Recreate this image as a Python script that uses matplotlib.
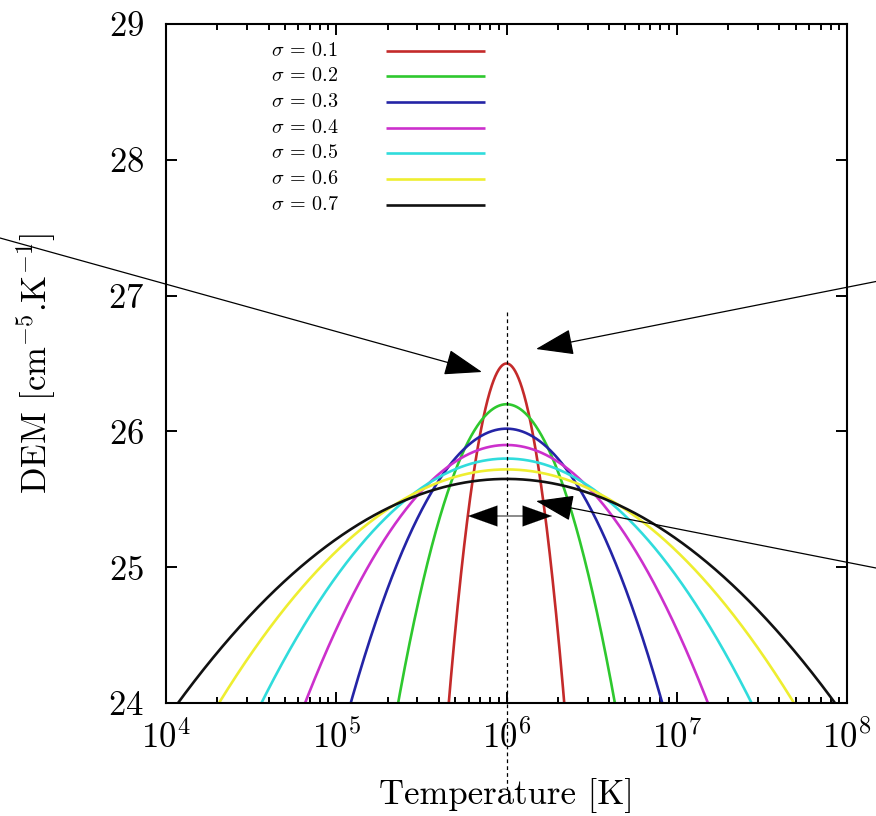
import numpy as np
import matplotlib
matplotlib.use("Agg")
import matplotlib.pyplot as plt
from matplotlib.ticker import LogLocator, NullFormatter, FixedLocator

plt.rcParams["font.family"] = "serif"
plt.rcParams["font.serif"] = ["cmr10", "DejaVu Serif"]
plt.rcParams["mathtext.fontset"] = "cm"
plt.rcParams["axes.formatter.use_mathtext"] = True

# Gaussian DEM models centred on log T = 6
sigmas = [0.1, 0.2, 0.3, 0.4, 0.5, 0.6, 0.7]
peak_dem = [26.50, 26.20, 26.02, 25.90, 25.80, 25.72, 25.65]
center_logt = 6.0
colors = ["#c42a2a", "#2ec82e", "#2424a6", "#cc30cc", "#30dcdc", "#eeee30", "#111111"]
labels = [r"$\sigma$ = %.1f" % s for s in sigmas]

W, H = 876, 816
fig = plt.figure(figsize=(W / 100, H / 100), dpi=100)
L, R, T, B = 166, 847, 24, 703
ax = fig.add_axes([L / W, 1 - B / H, (R - L) / W, (B - T) / H])

logt = np.linspace(3.5, 8.5, 2000)
for s, p, c in zip(sigmas, peak_dem, colors):
    dem = p - np.log10(np.e) * (logt - center_logt) ** 2 / (2 * s ** 2)
    ax.plot(10 ** logt, dem, color=c, lw=1.9, solid_capstyle="butt")

ax.set_xscale("log")
ax.set_xlim(1e4, 1e8)
ax.set_ylim(24, 29)

ax.xaxis.set_major_locator(LogLocator(base=10, numticks=10))
ax.xaxis.set_minor_locator(LogLocator(base=10, subs=np.arange(2, 10), numticks=50))
ax.xaxis.set_minor_formatter(NullFormatter())
ax.yaxis.set_major_locator(FixedLocator([24, 25, 26, 27, 28, 29]))

ax.tick_params(which="both", direction="in", top=True, right=True, width=1.4,
               labelsize=25)
ax.tick_params(which="major", length=8)
ax.tick_params(which="minor", length=4.5)
ax.tick_params(axis="y", pad=16)
ax.tick_params(axis="x", pad=12)
for sp in ax.spines.values():
    sp.set_linewidth(1.5)

ax.set_xlabel("Temperature [K]", fontsize=25, labelpad=17)
ax.set_ylabel(r"DEM [cm$^{-5}$.K$^{-1}$]", fontsize=25, labelpad=36)

# key: label on the left, line sample on the right
for i, (lab, c) in enumerate(zip(labels, colors)):
    py = 50.7 + i * 25.67
    yf = (B - py) / (B - T)
    ax.text((271 - L) / (R - L), yf, lab, transform=ax.transAxes, fontsize=14.5,
            ha="left", va="center")
    ax.plot([(386 - L) / (R - L), (485 - L) / (R - L)], [yf, yf], color=c, lw=1.9,
            transform=ax.transAxes, solid_capstyle="butt")


def px_to_data(px, py):
    lx = 4 + (px - L) / (R - L) * 4
    v = 24 + (B - py) / (B - T) * 5
    return 10 ** lx, v


# dashed marker at the peak temperature
x0, ytop = px_to_data(508, 312)
_, ybot = px_to_data(508, 792)
ax.plot([1e6, 1e6], [ytop, ybot], color="black", lw=0.9, ls=(0, (3, 2.5)),
        clip_on=False)

head = dict(arrowstyle="-|>,head_length=1.6,head_width=0.55", color="black",
            lw=0.9, shrinkA=0, shrinkB=0, mutation_scale=15)

for start, tip in [((0, 238), (482, 372)),
                   ((876, 281.5), (536, 349)),
                   ((876, 568), (536, 501))]:
    ax.annotate("", xy=px_to_data(*tip), xytext=px_to_data(*start),
                xycoords="data", textcoords="data", arrowprops=head,
                annotation_clip=False)

# width indicator around the peak
yw = 516
ax.plot([10 ** (4 + (497 - L) / (R - L) * 4), 10 ** (4 + (524 - L) / (R - L) * 4)],
        [px_to_data(0, yw)[1]] * 2, color="#777777", lw=1.2)
for base, tip in [((498, yw), (468, yw)), ((523, yw), (552, yw))]:
    ax.annotate("", xy=px_to_data(*tip), xytext=px_to_data(*base),
                arrowprops=dict(arrowstyle="-|>,head_length=1.4,head_width=0.5",
                                color="black", lw=0.1, shrinkA=0, shrinkB=0,
                                mutation_scale=15),
                annotation_clip=False)

fig.savefig("out.png", dpi=100)
